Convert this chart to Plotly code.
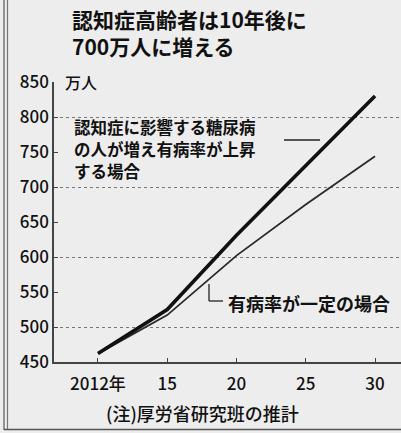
import plotly.graph_objects as go

# 認知症高齢者の将来推計（万人）
years = ["2012年", "15", "20", "25", "30"]
rising_rate = [462, 525, 631, 730, 830]     # 糖尿病の増加で有病率が上昇する場合
constant_rate = [462, 517, 602, 675, 744]   # 有病率が一定の場合
y_ticks = [450, 500, 550, 600, 650, 700, 750, 800, 850]
grid_vals = [500, 600, 700, 800]

W, H = 401, 433
L, R, T, B = 54, 0, 82, 71
PW, PH = W - L - R, H - T - B

def px(x):
    return (x - L) / PW

def py(y):
    return (H - B - y) / PH

FONT = "Noto Sans CJK JP"
xs = list(range(len(years)))

fig = go.Figure()
fig.add_trace(go.Scatter(x=xs, y=constant_rate, mode="lines",
                         line=dict(color="#2a2a2a", width=1.8), hoverinfo="skip"))
fig.add_trace(go.Scatter(x=xs, y=rising_rate, mode="lines",
                         line=dict(color="#111111", width=3.6), hoverinfo="skip"))

ann = []
def text(x, y, s, size, weight=500, anchor="left"):
    ann.append(dict(x=px(x), y=py(y), xref="paper", yref="paper", text=s,
                    showarrow=False, xanchor=anchor, yanchor="middle",
                    align="left",
                    font=dict(family=FONT, size=size, color="#111111",
                              weight=weight)))

# 見出し
text(70, 33, "認知症高齢者は10年後に<br>700万人に増える", 21, weight=700)
# 単位
text(63, 82, "万人", 16)
# 系列の説明（1行ずつ配置）
label_lines = ["認知症に影響する糖尿病", "の人が増え有病率が上昇", "する場合"]
for i, s in enumerate(label_lines):
    text(72, 127 + 22 * i, s, 16.5, weight=600)
text(226, 303, "有病率が一定の場合", 18, weight=600)
# 注記
text(104, 413, "(注)厚労省研究班の推計", 18)

shapes = [
    # 引き出し線
    dict(type="line", xref="paper", yref="paper", x0=px(284), x1=px(320),
         y0=py(140), y1=py(140), line=dict(color="#222", width=1.3)),
    dict(type="line", xref="paper", yref="paper", x0=px(209), x1=px(209),
         y0=py(284), y1=py(301), line=dict(color="#222", width=1.3)),
    dict(type="line", xref="paper", yref="paper", x0=px(209), x1=px(223),
         y0=py(301), y1=py(301), line=dict(color="#222", width=1.3)),
    # 枠線
    dict(type="line", xref="paper", yref="paper", x0=px(4), x1=px(4),
         y0=py(0), y1=py(430), line=dict(color="#555", width=1.2)),
    dict(type="line", xref="paper", yref="paper", x0=px(7.5), x1=px(7.5),
         y0=py(0), y1=py(430), line=dict(color="#777", width=1.2)),
    dict(type="line", xref="paper", yref="paper", x0=px(4), x1=px(401),
         y0=py(429.5), y1=py(429.5), line=dict(color="#555", width=1.5)),
]

fig.update_layout(
    width=W, height=H,
    margin=dict(l=L, r=R, t=T, b=B),
    paper_bgcolor="#ededed", plot_bgcolor="#ededed",
    showlegend=False,
    annotations=ann, shapes=shapes,
    font=dict(family=FONT, color="#111111"),
    xaxis=dict(range=[-0.635, 4.375], tickvals=xs, ticktext=years,
               showgrid=False, zeroline=False, showline=True,
               linecolor="#444", linewidth=1.5,
               ticks="inside", ticklen=4, tickcolor="#444",
               ticklabelstandoff=6,
               tickfont=dict(family=FONT, size=17, color="#111", weight=500)),
    yaxis=dict(range=[450, 850], tickvals=y_ticks,
               showgrid=False, zeroline=False, showline=True,
               linecolor="#444", linewidth=1.5,
               ticks="inside", ticklen=4, tickcolor="#444",
               tickfont=dict(family=FONT, size=17, color="#111", weight=500),
               minor=dict(tickvals=grid_vals, showgrid=True, gridcolor="#777",
                          griddash="dot", gridwidth=1.2, ticks="")),
)

fig.write_html("out.html")
